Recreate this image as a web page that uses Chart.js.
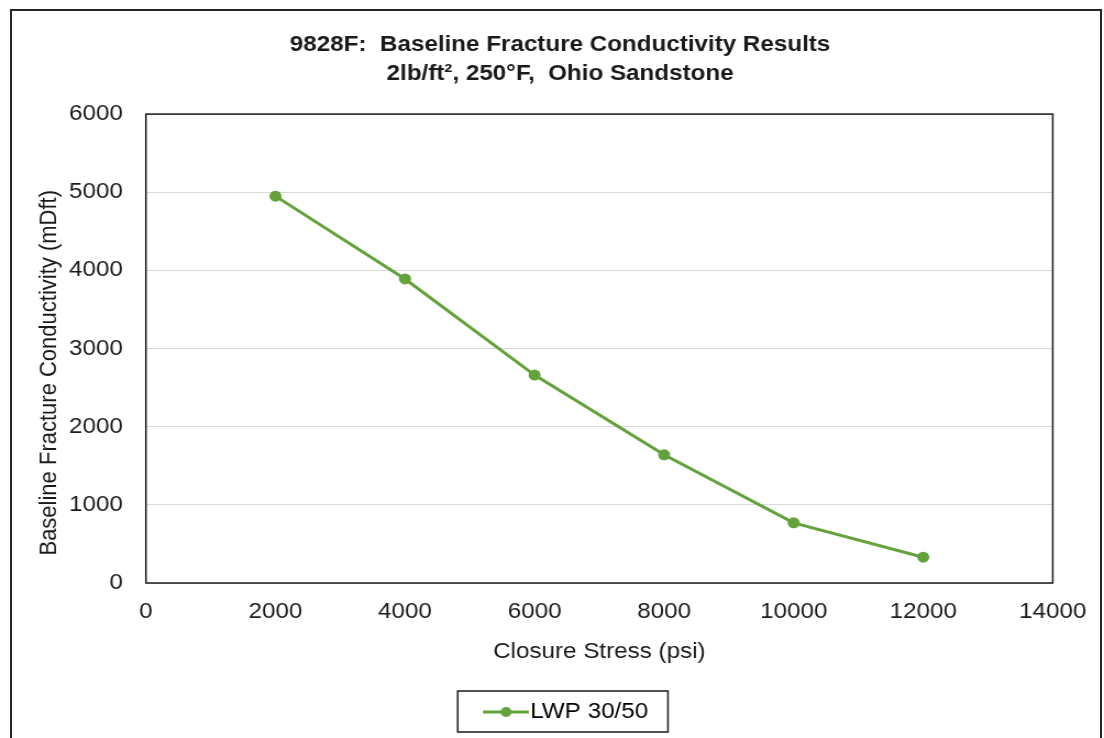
<!DOCTYPE html>
<html><head><meta charset="utf-8">
<script src="https://cdn.jsdelivr.net/npm/chart.js@4.4.0/dist/chart.umd.min.js"></script>
<style>
html,body{margin:0;padding:0;background:#fff;overflow:hidden}
#wrap{position:relative;width:1104px;height:738px}
#frame{position:absolute;left:10px;top:9px;width:1092px;height:760px;border:2px solid #262626;box-sizing:border-box}
#c{position:absolute;left:0;top:0}
</style></head><body>
<div id="wrap"><div id="frame"></div><canvas id="c" width="1004" height="738" style="width:1104px;height:738px"></canvas></div>
<script>
const closureStress = [2000, 4000, 6000, 8000, 10000, 12000];
const conductivity = [4950, 3890, 2660, 1640, 770, 330];
const seriesName = 'LWP 30/50';
const titleLines = ['9828F:  Baseline Fracture Conductivity Results', '2lb/ft\u00B2, 250\u00B0F,  Ohio Sandstone'];
const xTitle = 'Closure Stress (psi)';
const yTitle = 'Baseline Fracture Conductivity (mDft)';
const xTicks = [0, 2000, 4000, 6000, 8000, 10000, 12000, 14000];
const yTicks = [0, 1000, 2000, 3000, 4000, 5000, 6000];

const GREEN = '#64A23C';
const FONT = "'Liberation Sans', Arial, sans-serif";
const TXT = '#1a1a1a';

// legend marker: line with a dot (visible part offset to the right)
const marker = document.createElement('canvas');
marker.width = 62; marker.height = 12;
(function () {
  const m = marker.getContext('2d');
  m.strokeStyle = GREEN; m.lineWidth = 3;
  m.beginPath(); m.moveTo(20, 6); m.lineTo(62, 6); m.stroke();
  m.fillStyle = GREEN; m.beginPath(); m.arc(41, 6, 5, 0, Math.PI * 2); m.fill();
})();

const extras = {
  id: 'extras',
  afterDraw(chart) {
    const ctx = chart.ctx, a = chart.chartArea;
    ctx.save();
    ctx.strokeStyle = '#1a1a1a'; ctx.lineWidth = 1.5;
    ctx.strokeRect(a.left, a.top, a.right - a.left, a.bottom - a.top);
    const hb = chart.legend.legendHitBoxes[0];
    if (hb) {
      const l = hb.left - 13, r = hb.left + hb.width + 18;
      ctx.strokeRect(l, hb.top - 10, r - l, hb.height + 19);
    }
    // y-axis title, placed like the reference (slightly below the plot centre)
    const ys = chart.scales.y;
    ctx.translate(ys.left + 18, ys.getPixelForValue(2690));
    ctx.rotate(-Math.PI / 2);
    ctx.fillStyle = TXT;
    ctx.font = "22px " + FONT;
    ctx.textAlign = 'center';
    ctx.textBaseline = 'middle';
    ctx.fillText(yTitle, 0, 0);
    ctx.restore();
  }
};

new Chart(document.getElementById('c'), {
  type: 'scatter',
  data: {
    datasets: [{
      label: seriesName,
      data: closureStress.map((x, i) => ({ x: x, y: conductivity[i] })),
      showLine: true,
      borderColor: GREEN,
      backgroundColor: GREEN,
      borderWidth: 3,
      pointRadius: 5.5,
      pointHoverRadius: 5.5,
      pointBorderWidth: 0,
      tension: 0
    }]
  },
  options: {
    responsive: false,
    animation: false,
    devicePixelRatio: 1,
    layout: { padding: { left: 26.7, right: 12, top: 0, bottom: 5 } },
    plugins: {
      tooltip: { enabled: false },
      title: {
        display: true,
        text: titleLines,
        color: TXT,
        font: { family: FONT, size: 22, weight: 'bold', lineHeight: 1.32 },
        padding: { top: 30.5, bottom: 25.5 }
      },
      legend: {
        display: true,
        position: 'bottom',
        labels: {
          color: TXT,
          font: { family: FONT, size: 22 },
          usePointStyle: true,
          pointStyleWidth: 42,
          padding: 10,
          generateLabels: () => [{ text: seriesName, pointStyle: marker, fillStyle: GREEN, strokeStyle: GREEN, lineWidth: 0, hidden: false, datasetIndex: 0 }]
        }
      }
    },
    scales: {
      x: {
        type: 'linear',
        min: xTicks[0], max: xTicks[xTicks.length - 1],
        afterBuildTicks: s => { s.ticks = xTicks.map(v => ({ value: v })); },
        afterFit: s => { s.height = 108; },
        grid: { display: false, drawTicks: false },
        border: { display: false },
        ticks: { color: TXT, font: { family: FONT, size: 22 }, padding: 16, maxRotation: 0, callback: v => String(v) },
        title: { display: true, text: xTitle, color: TXT, font: { family: FONT, size: 22 }, padding: { top: 0, bottom: 26 } }
      },
      y: {
        type: 'linear',
        min: yTicks[0], max: yTicks[yTicks.length - 1],
        afterBuildTicks: s => { s.ticks = yTicks.map(v => ({ value: v })); },
        afterFit: s => { s.width = 106; },
        grid: { color: '#d9d9d9', lineWidth: 1, drawTicks: false },
        border: { display: false },
        ticks: { color: TXT, font: { family: FONT, size: 22 }, padding: 21, callback: v => String(v) },
        title: { display: false, text: yTitle }
      }
    }
  },
  plugins: [extras]
});
</script>
</body></html>
